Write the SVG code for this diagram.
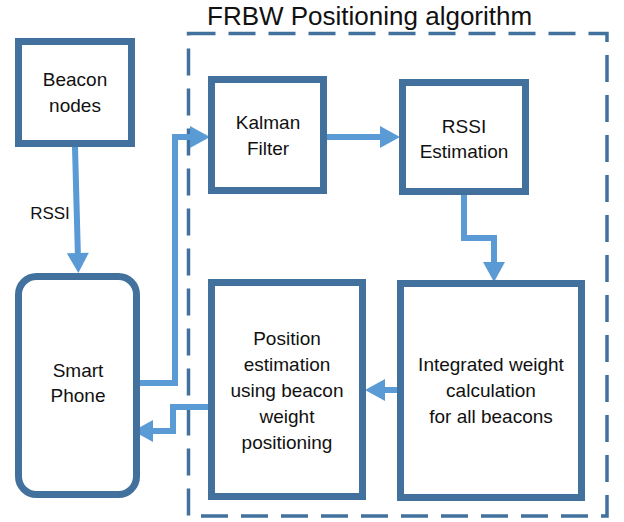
<svg xmlns="http://www.w3.org/2000/svg" width="624" height="522" viewBox="0 0 624 522">
  <style>
    .box { fill: #ffffff; stroke: #41719c; stroke-width: 7; }
    .frame { fill: none; stroke: #41719c; stroke-width: 3.5; stroke-dasharray: 27 13; }
    .conn { fill: none; stroke: #5b9bd5; stroke-width: 6; stroke-linejoin: miter; stroke-linecap: butt; marker-end: url(#arrow); }
    .lbl { font-family: "Liberation Sans", Arial, sans-serif; font-size: 19px; fill: #111111; text-anchor: middle; }
    .title { font-family: "Liberation Sans", Arial, sans-serif; font-size: 26px; fill: #111111; }
    .small { font-family: "Liberation Sans", Arial, sans-serif; font-size: 17px; fill: #111111; text-anchor: middle; }
  </style>
  <defs>
    <marker id="arrow" markerUnits="userSpaceOnUse" markerWidth="22" markerHeight="22" viewBox="0 0 20 22" refX="6" refY="11" orient="auto">
      <path d="M0,0 L20,11 L0,22 Z" fill="#5b9bd5"/>
    </marker>
  </defs>
  <rect width="624" height="522" fill="#ffffff"/>

  <g id="frame">
    <rect class="frame" x="188.5" y="33.5" width="418.5" height="482.5"/>
    <text class="title" x="207" y="25">FRBW Positioning algorithm</text>
  </g>

  <g id="connectors">
    <path class="conn" d="M75,147 L78,259"/>
    <path class="conn" d="M137,383 H175 V137 H196"/>
    <path class="conn" d="M327,137 H386"/>
    <path class="conn" d="M464,195 V238 H494 V268"/>
    <path class="conn" d="M397,390 H379"/>
    <path class="conn" d="M208,407 H173 V431 H147"/>
    <text class="small" x="50" y="219">RSSI</text>
  </g>

  <g id="beacon-nodes">
    <rect class="box" x="18.5" y="41.5" width="113" height="102"/>
    <text class="lbl" x="75" y="86">Beacon</text>
    <text class="lbl" x="75" y="112">nodes</text>
  </g>

  <g id="kalman-filter">
    <rect class="box" x="211.5" y="79.5" width="112" height="111"/>
    <text class="lbl" x="268" y="129">Kalman</text>
    <text class="lbl" x="268" y="155">Filter</text>
  </g>

  <g id="rssi-estimation">
    <rect class="box" x="402.5" y="82.5" width="123" height="109"/>
    <text class="lbl" x="464" y="133">RSSI</text>
    <text class="lbl" x="464" y="158">Estimation</text>
  </g>

  <g id="smart-phone">
    <rect class="box" x="18.5" y="276.5" width="118" height="218" rx="18" ry="18"/>
    <text class="lbl" x="78" y="377">Smart</text>
    <text class="lbl" x="78" y="402">Phone</text>
  </g>

  <g id="position-estimation">
    <rect class="box" x="211.5" y="282.5" width="151" height="214"/>
    <text class="lbl" x="287" y="345">Position</text>
    <text class="lbl" x="287" y="371">estimation</text>
    <text class="lbl" x="287" y="397">using beacon</text>
    <text class="lbl" x="287" y="423">weight</text>
    <text class="lbl" x="287" y="449">positioning</text>
  </g>

  <g id="integrated-weight">
    <rect class="box" x="400.5" y="283.5" width="181" height="214"/>
    <text class="lbl" x="491" y="371">Integrated weight</text>
    <text class="lbl" x="491" y="397">calculation</text>
    <text class="lbl" x="491" y="423">for all beacons</text>
  </g>
</svg>
